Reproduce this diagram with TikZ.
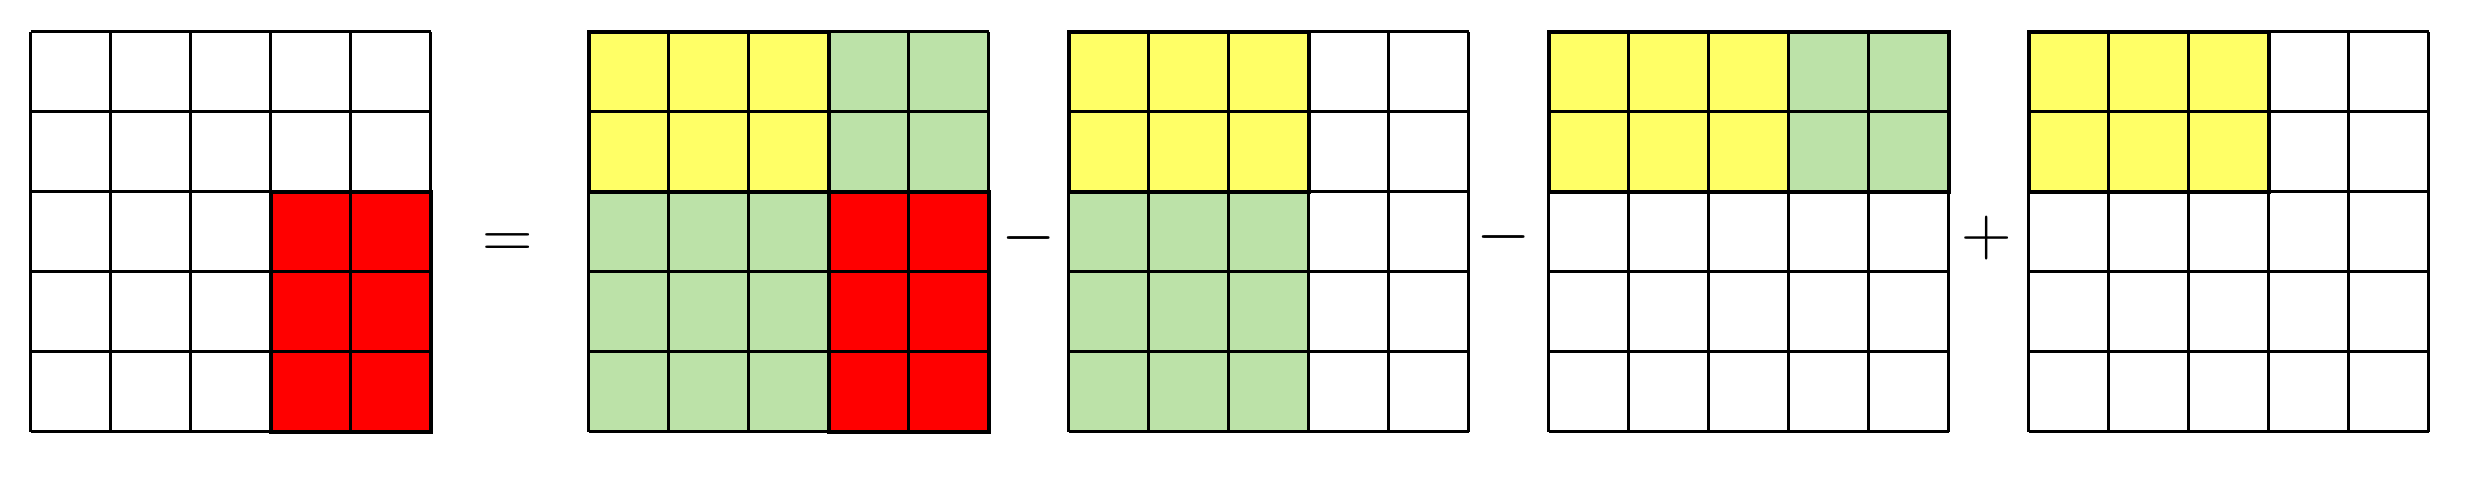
\documentclass[tikz,border=0pt]{standalone}
\definecolor{sumyellow}{HTML}{FFFF66}
\definecolor{sumgreen}{HTML}{BCE2A8}
\definecolor{sumred}{HTML}{FF0000}
\tikzset{
  gridline/.style={line width=1pt},
  regionline/.style={line width=1.35pt},
  opsign/.style={font=\fontsize{30}{30}\selectfont, inner sep=0pt}
}
\begin{document}
\begin{tikzpicture}
    \useasboundingbox (0,0) rectangle (30.85,-6.05);

    % Query grid
    \begin{scope}[shift={(0.384,-0.396)}]
        \fill[sumred] (3,-2) rectangle (5,-5);
        \draw[gridline] (0,0) grid (5,-5);
        \draw[regionline] (3,-2) rectangle (5,-5);
    \end{scope}

    % Full prefix sum
    \begin{scope}[shift={(7.36,-0.396)}]
        \fill[sumyellow] (0,0) rectangle (3,-2);
        \fill[sumgreen] (3,0) rectangle (5,-2);
        \fill[sumgreen] (0,-2) rectangle (3,-5);
        \fill[sumred] (3,-2) rectangle (5,-5);
        \draw[gridline] (0,0) grid (5,-5);
        \draw[regionline] (0,0) rectangle (3,-2);
        \draw[regionline] (3,-2) rectangle (5,-5);
    \end{scope}

    % Left strip
    \begin{scope}[shift={(13.36,-0.396)}]
        \fill[sumyellow] (0,0) rectangle (3,-2);
        \fill[sumgreen] (0,-2) rectangle (3,-5);
        \draw[gridline] (0,0) grid (5,-5);
        \draw[regionline] (0,0) rectangle (3,-2);
    \end{scope}

    % Top strip
    \begin{scope}[shift={(19.36,-0.396)}]
        \fill[sumyellow] (0,0) rectangle (3,-2);
        \fill[sumgreen] (3,0) rectangle (5,-2);
        \draw[gridline] (0,0) grid (5,-5);
        \draw[regionline] (0,0) rectangle (5,-2);
    \end{scope}

    % Corner counted twice
    \begin{scope}[shift={(25.36,-0.396)}]
        \fill[sumyellow] (0,0) rectangle (3,-2);
        \draw[gridline] (0,0) grid (5,-5);
        \draw[regionline] (0,0) rectangle (3,-2);
    \end{scope}

    % Signs
    \node[opsign] (eq) at (6.34,-3.07) {$=$};
    \node[opsign] (minusa) at (12.86,-2.98) {$-$};
    \node[opsign] (minusb) at (18.8,-2.96) {$-$};
    \node[opsign] (plus) at (24.83,-2.975) {$+$};
\end{tikzpicture}
\end{document}
